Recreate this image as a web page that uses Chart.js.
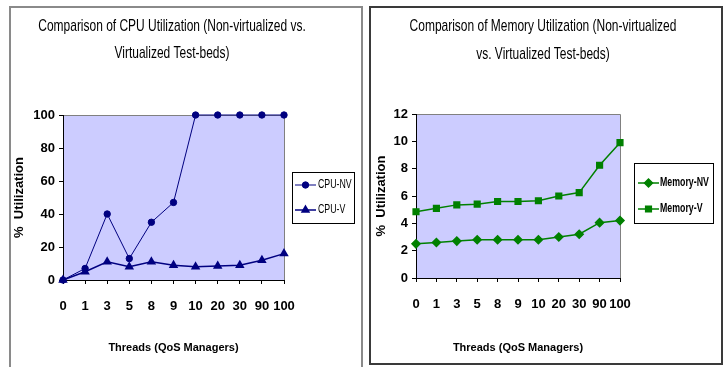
<!DOCTYPE html>
<html><head><meta charset="utf-8">
<script src="https://cdn.jsdelivr.net/npm/chart.js@4/dist/chart.umd.min.js"></script>
<style>
body{margin:0;background:#fff;width:727px;height:367px;overflow:hidden;position:relative}
.panel{position:absolute;box-sizing:border-box;background:#fff}
#p1{left:9px;top:6px;width:354px;height:370px;border:2px solid #8a8a8a;}
#p2{left:369px;top:6px;width:354px;height:359px;border:2px solid #3a3a3a;}
canvas{display:block}
</style></head>
<body>
<div class="panel" id="p1"><canvas id="c1" width="350" height="359" style="width:350px;height:359px"></canvas></div>
<div class="panel" id="p2"><canvas id="c2" width="350" height="355" style="width:350px;height:355px"></canvas></div>
<script>
const threads = ['0','1','3','5','8','9','10','20','30','90','100'];
const cpuNV = [0, 7, 40, 13, 35, 47, 100, 100, 100, 100, 100];
const cpuV  = [0, 5, 11, 8, 11, 9, 8, 8.5, 9, 12, 16];
const memNV = [2.5, 2.6, 2.7, 2.8, 2.8, 2.8, 2.8, 3.0, 3.2, 4.05, 4.2];
const memV  = [4.85, 5.1, 5.35, 5.4, 5.6, 5.6, 5.65, 6.0, 6.25, 8.25, 9.9];
const cpuTitle = ['Comparison of CPU Utilization (Non-virtualized vs.', 'Virtualized Test-beds)'];
const memTitle = ['Comparison of Memory Utilization (Non-virtualized', 'vs. Virtualized Test-beds)'];
const xTitle = 'Threads (QoS Managers)';
const yTitle = '%  Utilization';

const FONT = "'Liberation Sans Narrow','Arial Narrow','Liberation Sans',Arial,sans-serif";
Chart.defaults.font.family = FONT;
Chart.defaults.color = '#000';

function scaledText(ctx, text, x, y, sx, sy, align) {
  ctx.save();
  ctx.translate(x, y);
  ctx.scale(sx, sy);
  ctx.textAlign = align;
  ctx.textBaseline = 'middle';
  ctx.fillText(text, 0, 0);
  ctx.restore();
}

function makeChart(id, cfg) {
  const plotBg = {
    id: 'plotBg',
    beforeDraw(chart) {
      const {ctx, chartArea: a} = chart;
      ctx.save();
      ctx.fillStyle = '#CCCCFF';
      ctx.fillRect(a.left, a.top, a.right - a.left, a.bottom - a.top);
      ctx.strokeStyle = '#808080';
      ctx.lineWidth = 1;
      ctx.beginPath();
      ctx.moveTo(a.left, a.top + 0.5);
      ctx.lineTo(a.right + 0.5, a.top + 0.5);
      ctx.lineTo(a.right + 0.5, a.bottom);
      ctx.stroke();
      ctx.restore();
    },
    afterDraw(chart) {
      const ctx = chart.ctx;
      ctx.save();
      ctx.fillStyle = '#000';
      ctx.font = '14px ' + FONT;
      cfg.title.forEach((t, i) => scaledText(ctx, t, cfg.titleX, cfg.titleY[i], 0.855, 1.2, 'center'));
      const L = cfg.legend;
      ctx.fillStyle = '#fff';
      ctx.fillRect(L.x, L.y, L.w, L.h);
      ctx.strokeStyle = '#000';
      ctx.lineWidth = 1;
      ctx.strokeRect(L.x + 0.5, L.y + 0.5, L.w, L.h);
      chart.data.datasets.forEach((ds, i) => {
        const y = L.rows[i];
        ctx.strokeStyle = ds.borderColor;
        ctx.lineWidth = ds.borderWidth;
        ctx.beginPath();
        ctx.moveTo(L.lx0, y);
        ctx.lineTo(L.lx1, y);
        ctx.stroke();
        ctx.fillStyle = ds.pointBackgroundColor;
        Chart.helpers.drawPoint(ctx, {pointStyle: ds.pointStyle, radius: ds.pointRadius, rotation: 0, borderWidth: 1}, (L.lx0 + L.lx1) / 2, y);
        ctx.fillStyle = '#000';
        ctx.font = L.font;
        scaledText(ctx, ds.label, L.tx, y, L.sx, 1.15, 'left');
      });
      ctx.restore();
    }
  };
  return new Chart(document.getElementById(id), {
    type: 'line',
    data: {labels: threads, datasets: cfg.datasets},
    options: {
      responsive: false,
      animation: false,
      layout: {padding: cfg.padding},
      plugins: {legend: {display: false}, title: {display: false}, tooltip: {enabled: false}},
      scales: {
        x: {
          type: 'category',
          offset: false,
          grid: {drawOnChartArea: false, drawTicks: true, tickLength: 4, color: '#000'},
          border: {color: '#000', width: 1},
          ticks: {font: {size: 13, weight: 'bold'}, padding: 15, maxRotation: 0, autoSkip: false, color: '#000'},
          title: {display: true, text: xTitle, font: {size: 11, weight: 'bold'}, padding: 0, color: '#000'},
          afterFit(s) { s.height = cfg.xHeight; }
        },
        y: {
          min: 0, max: cfg.ymax,
          grid: {drawOnChartArea: false, drawTicks: true, tickLength: 4, color: '#000'},
          border: {color: '#000', width: 1},
          ticks: {stepSize: cfg.step, font: {size: 13, weight: 'bold'}, padding: 4, color: '#000'},
          title: {display: true, text: yTitle, font: {size: 13, weight: 'bold'}, padding: 0, color: '#000'},
          afterFit(s) { s.width = cfg.yWidth; }
        }
      }
    },
    plugins: [plotBg]
  });
}

const navy = '#000080', green = '#008000';
makeChart('c1', {
  datasets: [
    {label: 'CPU-NV', data: cpuNV, borderColor: navy, backgroundColor: navy, pointBackgroundColor: navy, pointBorderColor: navy, borderWidth: 1, pointStyle: 'circle', pointRadius: 3.2, clip: false},
    {label: 'CPU-V', data: cpuV, borderColor: navy, backgroundColor: navy, pointBackgroundColor: navy, pointBorderColor: navy, borderWidth: 1.5, pointStyle: 'triangle', pointRadius: 4, clip: false}
  ],
  ymax: 100, step: 20,
  padding: {left: 1, top: 107, right: 77, bottom: 12},
  yWidth: 51, xHeight: 75,
  title: cpuTitle, titleX: 161, titleY: [18, 45],
  legend: {x: 281, y: 164, w: 62, h: 51, rows: [177, 202], lx0: 284, lx1: 305, tx: 307, sx: 0.8, font: '11px ' + FONT}
});
makeChart('c2', {
  datasets: [
    {label: 'Memory-NV', data: memNV, borderColor: green, backgroundColor: green, pointBackgroundColor: green, pointBorderColor: green, borderWidth: 1.5, pointStyle: 'rectRot', pointRadius: 4, clip: false},
    {label: 'Memory-V', data: memV, borderColor: green, backgroundColor: green, pointBackgroundColor: green, pointBorderColor: green, borderWidth: 1.5, pointStyle: 'rect', pointRadius: 4, clip: false}
  ],
  ymax: 12, step: 2,
  padding: {left: 3, top: 106, right: 101, bottom: 8},
  yWidth: 42, xHeight: 77,
  title: memTitle, titleX: 172, titleY: [18, 46],
  legend: {x: 263, y: 155, w: 79, h: 60, rows: [175, 201], lx0: 267, lx1: 288, tx: 289, sx: 0.8, font: 'bold 11px ' + FONT}
});
</script>
</body></html>
